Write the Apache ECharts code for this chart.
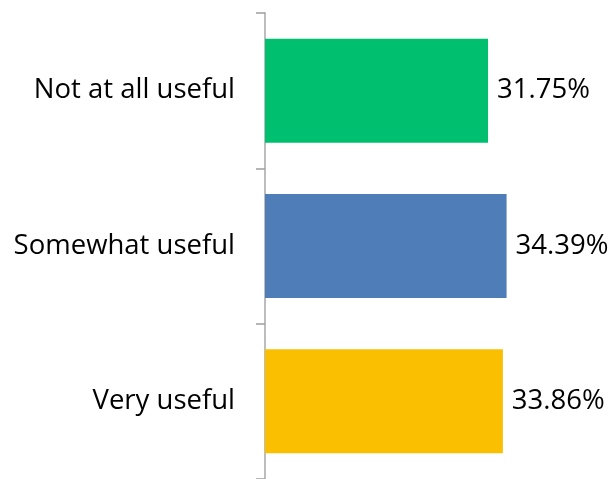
<!DOCTYPE html>
<html>
<head>
<meta charset="utf-8">
<script src="https://cdn.jsdelivr.net/npm/echarts@6/dist/echarts.min.js"></script>
<style>
  html, body { margin: 0; padding: 0; background: #fff; }
  #chart { width: 614px; height: 479px; }
</style>
</head>
<body>
<div id="chart"></div>
<script>
// Survey responses: how useful respondents found it (percent of responses)
const categories = ['Very useful', 'Somewhat useful', 'Not at all useful'];
const values = [33.86, 34.39, 31.75];
const barColors = ['#F9BF00', '#4F7DB8', '#00BF6F'];

const chart = echarts.init(document.getElementById('chart'), null, { renderer: 'canvas' });

chart.setOption({
  animation: false,
  grid: { left: 265, width: 281, top: 13, bottom: -4, containLabel: false },
  xAxis: {
    type: 'value',
    min: 0,
    max: 40,
    show: false
  },
  yAxis: {
    type: 'category',
    data: categories,
    axisLine: { show: true, lineStyle: { color: '#BDBDBD', width: 2 } },
    axisTick: { show: true, length: 9, lineStyle: { color: '#9E9E9E', width: 1.5 } },
    axisLabel: {
      margin: 30,
      color: '#000',
      fontFamily: '"Open Sans", sans-serif',
      fontSize: 27.5
    }
  },
  series: [{
    type: 'bar',
    data: values.map((v, i) => ({ value: v, itemStyle: { color: barColors[i] } })),
    barCategoryGap: '33%',
    label: {
      show: true,
      position: 'right',
      distance: 9,
      color: '#000',
      fontFamily: '"Open Sans", sans-serif',
      fontSize: 27.5,
      formatter: p => p.value.toFixed(2) + '%'
    }
  }]
});
</script>
</body>
</html>
